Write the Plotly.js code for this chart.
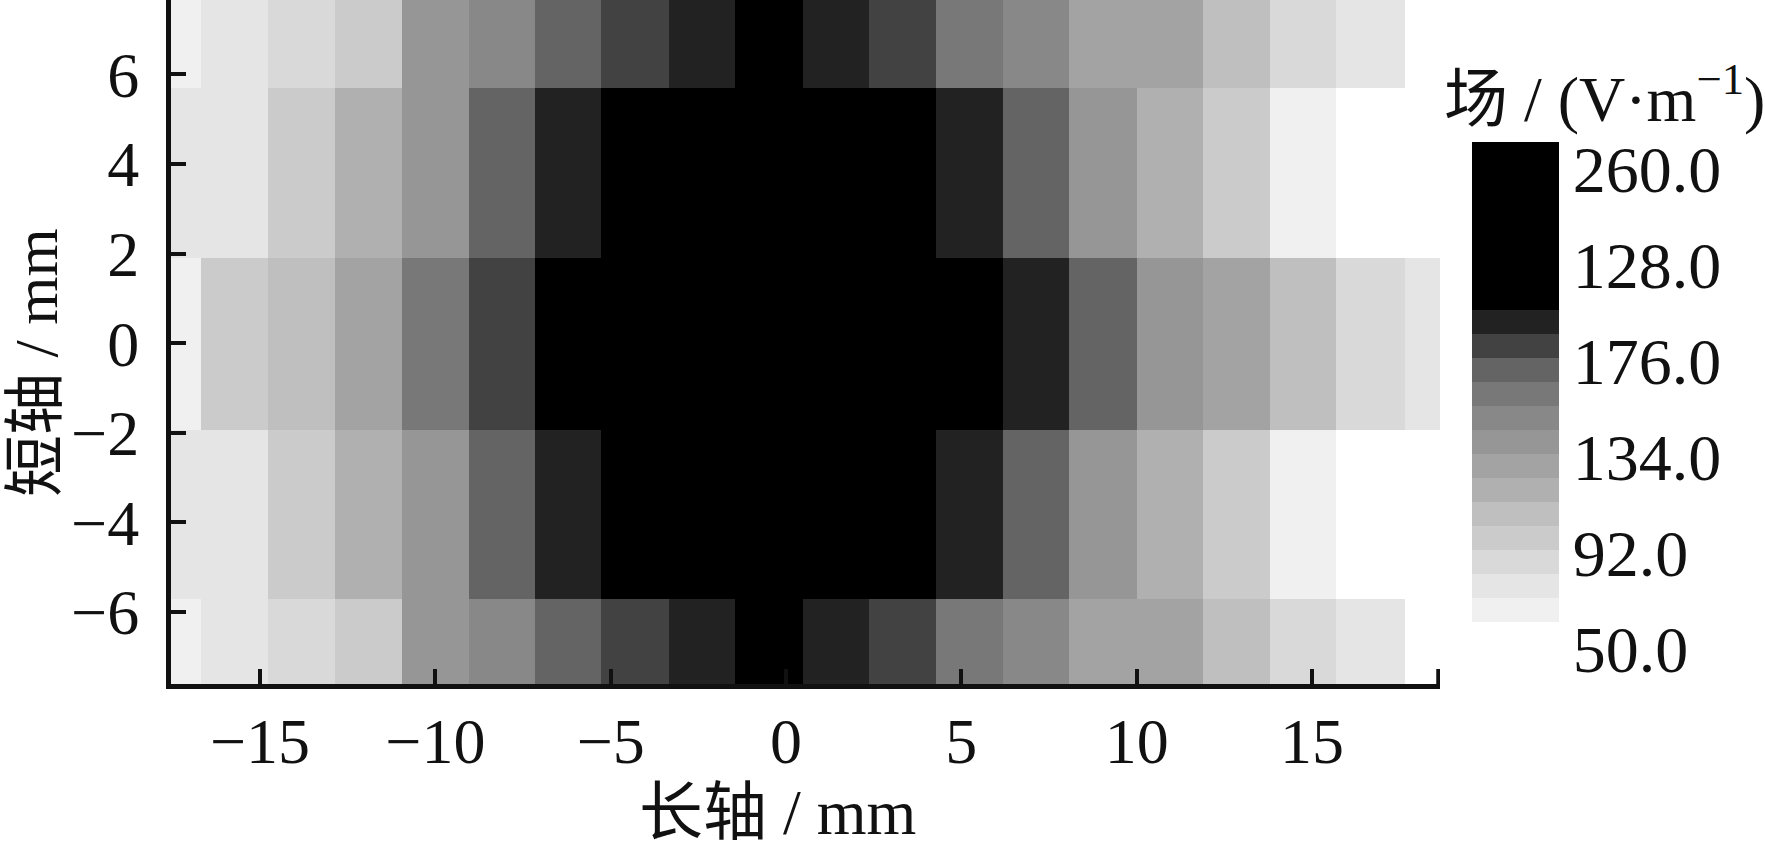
<!DOCTYPE html>
<html>
<head>
<meta charset="utf-8">
<script src="https://cdn.plot.ly/plotly-3.0.1.min.js"></script>
<style>html,body{margin:0;padding:0;background:#fff}</style>
</head>
<body>
<div id="chart" style="width:1765px;height:849px"></div>
<script>
// cell edges along the long axis (mm)
const xEdges = [-17.54,-16.68,-14.77,-12.86,-10.95,-9.04,-7.16,-5.28,-3.33,-1.45,0.48,2.37,4.28,6.19,8.07,10.0,11.9,13.8,15.68,17.65,18.65];
// cell edges along the short axis (mm)
const yEdges = [-7.61,-5.72,-1.93,1.9,5.7,7.66];
// field values, V/m, bottom row first
const rowBottom = [69,80,90,101,143,153,174,185,195,230,195,185,164,153,132,132,111,90,80,55];
const rowLower  = [80,80,101,122,143,174,195,225,240,250,240,225,195,174,143,122,101,69,55,55];
const rowCentre = [69,101,111,132,164,185,225,245,255,260,255,245,225,195,174,143,132,111,90,80];
const rowUpper  = [80,80,101,122,143,174,195,225,240,250,240,225,195,174,143,122,101,69,55,55];
const rowTop    = [69,80,90,101,143,153,174,185,195,230,195,185,164,153,132,132,111,90,80,55];
// legend
const legendValues = [260,218,176,134,92,50];
const legendLabels = ['260.0','128.0','176.0','134.0','92.0','50.0'];
const bandGreys = [0,0,0,0,0,0,0,34,66,100,120,136,150,163,176,191,203,217,229,240,255,255];
const zTop = 274, bandStep = 10.5;
// axes
const xTicks = [-15,-10,-5,0,5,10,15];
const xTickLabels = ['−15','−10','−5','0','5','10','15'];
const yTicks = [-6,-4,-2,0,2,4,6];
const yTickLabels = ['−6','−4','−2','0','2','4','6'];

const n = bandGreys.length;
const colorscale = [];
// colorscale runs from the lowest value up, so walk the bands from the bottom
for (let i = 0; i < n; i++) {
  const g = bandGreys[n - 1 - i];
  const c = `rgb(${g},${g},${g})`;
  colorscale.push([i / n, c], [(i + 1) / n, c]);
}
const serif = '"Liberation Serif","Noto Sans CJK SC",serif';
const ink = '#111111';
const W = 1765, H = 849, L = 171, R = 1440, B = 684;
const px = v => (v - L) / (R - L);
const py = v => 1 - v / B;

const trace = {
  type: 'heatmap',
  x: xEdges,
  y: yEdges,
  z: [rowBottom, rowLower, rowCentre, rowUpper, rowTop],
  zmin: zTop - n * bandStep,
  zmax: zTop,
  zsmooth: false,
  colorscale: colorscale,
  colorbar: {
    x: px(1472), xanchor: 'left', xpad: 0,
    y: py(142), yanchor: 'top', ypad: 0,
    lenmode: 'pixels', len: 528,
    thicknessmode: 'pixels', thickness: 87,
    outlinewidth: 0, borderwidth: 0,
    ticks: '', ticklen: 0,
    tickmode: 'array', tickvals: legendValues.map(v => v + 2.2), ticktext: legendLabels,
    tickfont: {family: serif, size: 66, color: ink}
  }
};
const layout = {
  width: W, height: H,
  paper_bgcolor: '#ffffff', plot_bgcolor: '#ffffff',
  margin: {l: L, r: W - R, t: 0, b: H - B, pad: 0},
  xaxis: {
    range: [-17.54, 18.65], tickmode: 'array', tickvals: xTicks, ticktext: xTickLabels,
    ticks: 'inside', ticklen: 15, tickwidth: 4, tickcolor: ink,
    showline: true, linewidth: 5, linecolor: ink, showgrid: false, zeroline: false,
    ticklabelstandoff: -3,
    tickfont: {family: serif, size: 64, color: ink}
  },
  yaxis: {
    range: [-7.61, 7.66], tickmode: 'array', tickvals: yTicks, ticktext: yTickLabels,
    ticks: 'inside', ticklen: 15, tickwidth: 4, tickcolor: ink,
    showline: true, linewidth: 5, linecolor: ink, showgrid: false, zeroline: false,
    ticklabelstandoff: 14,
    tickfont: {family: serif, size: 64, color: ink}
  },
  shapes: [{
    type: 'line', xref: 'x', yref: 'paper',
    x0: 18.6, x1: 18.6, y0: 0, y1: 15 / B,
    line: {color: ink, width: 4}
  }],
  annotations: [{
    xref: 'paper', yref: 'paper',
    x: px(1604), y: py(95), xanchor: 'center', yanchor: 'middle',
    showarrow: false,
    text: '场 / (V·m<sup>−1</sup>)',
    font: {family: serif, size: 64, color: ink}
  }, {
    xref: 'paper', yref: 'paper',
    x: px(777), y: py(812), xanchor: 'center', yanchor: 'middle',
    showarrow: false,
    text: '长轴 / mm',
    font: {family: serif, size: 64, color: ink}
  }, {
    xref: 'paper', yref: 'paper',
    x: px(36), y: py(363), xanchor: 'center', yanchor: 'middle',
    showarrow: false, textangle: -90,
    text: '短轴 / mm',
    font: {family: serif, size: 62, color: ink}
  }]
};
Plotly.newPlot('chart', [trace], layout, {displayModeBar: false, responsive: false});
</script>
</body>
</html>
